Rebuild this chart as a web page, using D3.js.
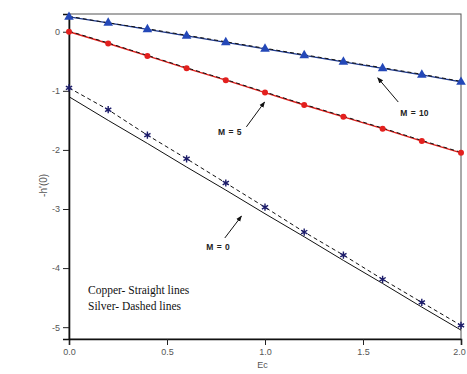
<!DOCTYPE html>
<html>
<head>
<meta charset="utf-8">
<script src="https://cdn.jsdelivr.net/npm/d3@7"></script>
<style>
  html, body { margin: 0; padding: 0; background: #fff; }
  svg { display: block; }
</style>
</head>
<body>
<svg id="chart" width="467" height="374"></svg>
<script>
// Eckert number values along the x axis
const ec = [0.0, 0.2, 0.4, 0.6, 0.8, 1.0, 1.2, 1.4, 1.6, 1.8, 2.0];

// -h'(0) for copper (solid lines)
const copperM10 = [0.25, 0.15, 0.04, -0.07, -0.18, -0.29, -0.40, -0.51, -0.62, -0.73, -0.85];
const copperM5  = [0.00, -0.20, -0.41, -0.62, -0.82, -1.03, -1.24, -1.44, -1.64, -1.85, -2.05];
const copperM0  = [-1.10, -1.50, -1.89, -2.29, -2.68, -3.08, -3.47, -3.87, -4.26, -4.66, -5.05];

// -h'(0) for silver (dashed lines)
const silverM10 = [0.26, 0.15, 0.05, -0.06, -0.17, -0.28, -0.39, -0.50, -0.61, -0.72, -0.84];
const silverM5  = [0.01, -0.19, -0.40, -0.61, -0.81, -1.02, -1.23, -1.43, -1.63, -1.84, -2.04];
const silverM0  = [-0.95, -1.32, -1.75, -2.15, -2.56, -2.97, -3.39, -3.78, -4.19, -4.58, -4.97];

// Axis ticks
const xTicks = [0.0, 0.5, 1.0, 1.5, 2.0];
const yTicks = [0, -1, -2, -3, -4, -5];

const svg = d3.select("#chart");
const W = 467, H = 374;
const margin = { top: 14, right: 6, bottom: 35, left: 69 };

const x = d3.scaleLinear().domain([0, 2]).range([margin.left, W - margin.right]);
const y = d3.scaleLinear().domain([-5.2, 0.3]).range([H - margin.bottom, margin.top]);

// Frame (top and right edges)
svg.append("rect")
  .attr("x", x(0)).attr("y", y(0.3))
  .attr("width", x(2) - x(0)).attr("height", y(-5.2) - y(0.3))
  .attr("fill", "none").attr("stroke", "#555").attr("stroke-width", 1);

// Axes
const xAxis = svg.append("g")
  .attr("transform", `translate(0,${y(-5.2)})`)
  .call(d3.axisBottom(x).tickValues(xTicks).tickFormat(d3.format(".1f")).tickSize(6).tickPadding(4));
const yAxis = svg.append("g")
  .attr("transform", `translate(${x(0)},0)`)
  .call(d3.axisLeft(y).tickValues(yTicks).tickFormat(d => d === 0 ? "0" : "-" + Math.abs(d)).tickSize(6).tickPadding(3));

[xAxis, yAxis].forEach(g => {
  g.select(".domain").attr("stroke", "#111").attr("stroke-width", 1.6);
  g.selectAll(".tick line").attr("stroke", "#222").attr("stroke-width", 1);
  g.selectAll(".tick text")
    .attr("fill", "#555")
    .style("font-family", "'Liberation Sans', Arial, sans-serif")
    .style("font-size", "9px");
});
// keep the last x label inside the page
xAxis.selectAll(".tick text").filter(d => d === 2).attr("dx", "-2");

// Axis titles
svg.append("text")
  .attr("transform", `translate(47,${y(-2.6)}) rotate(-90)`)
  .attr("text-anchor", "middle")
  .attr("fill", "#555")
  .style("font-family", "'Liberation Sans', Arial, sans-serif")
  .style("font-size", "10px")
  .text("-h'(0)");
svg.append("text")
  .attr("x", x(0.96)).attr("y", 368)
  .attr("text-anchor", "start")
  .attr("fill", "#555")
  .style("font-family", "'Liberation Sans', Arial, sans-serif")
  .style("font-size", "9px")
  .text("Ec");

const line = d3.line().x((d, i) => x(ec[i])).y(d => y(d));

// Copper curves (solid)
const solid = [
  { values: copperM10, color: "#1f3a8f", width: 1.3 },
  { values: copperM5,  color: "#e0201c", width: 1.4 },
  { values: copperM0,  color: "#111111", width: 1.0 }
];
solid.forEach(s => {
  svg.append("path").datum(s.values)
    .attr("d", line).attr("fill", "none")
    .attr("stroke", s.color).attr("stroke-width", s.width);
});

// Silver curves (dashed)
[silverM10, silverM5, silverM0].forEach(v => {
  svg.append("path").datum(v)
    .attr("d", line).attr("fill", "none")
    .attr("stroke", "#111").attr("stroke-width", 1)
    .attr("stroke-dasharray", "4,3");
});

// Markers
svg.append("g").selectAll("path").data(copperM10).join("path")
  .attr("transform", (d, i) => `translate(${x(ec[i])},${y(d)})`)
  .attr("d", d3.symbol(d3.symbolTriangle, 40))
  .attr("fill", "#2448b8");
svg.append("g").selectAll("circle").data(copperM5).join("circle")
  .attr("cx", (d, i) => x(ec[i])).attr("cy", d => y(d))
  .attr("r", 3).attr("fill", "#e3201e");
svg.append("g").selectAll("path").data(silverM0).join("path")
  .attr("transform", (d, i) => `translate(${x(ec[i])},${y(d)})`)
  .attr("d", d3.symbol(d3.symbolAsterisk, 36))
  .attr("fill", "none").attr("stroke", "#1c1c6a").attr("stroke-width", 1.4);

// Arrowhead
svg.append("defs").append("marker")
  .attr("id", "arrow").attr("viewBox", "0 0 10 10")
  .attr("refX", 9).attr("refY", 5)
  .attr("markerWidth", 6).attr("markerHeight", 6)
  .attr("orient", "auto-start-reverse")
  .append("path").attr("d", "M0,1 L10,5 L0,9 Z").attr("fill", "#111");

// Curve labels with arrows, placed in data coordinates
const notes = [
  { label: "M = 10", tx: 1.69, ty: -1.42, from: [1.68, -1.19], to: [1.575, -0.78] },
  { label: "M = 5",  tx: 0.76, ty: -1.75, from: [0.905, -1.61], to: [0.998, -1.19] },
  { label: "M = 0",  tx: 0.70, ty: -3.70, from: [0.795, -3.49], to: [0.88, -3.12] }
];
notes.forEach(n => {
  svg.append("line")
    .attr("x1", x(n.from[0])).attr("y1", y(n.from[1]))
    .attr("x2", x(n.to[0])).attr("y2", y(n.to[1]))
    .attr("stroke", "#111").attr("stroke-width", 1)
    .attr("marker-end", "url(#arrow)");
  svg.append("text")
    .attr("x", x(n.tx)).attr("y", y(n.ty))
    .attr("fill", "#222")
    .style("font-family", "'Liberation Sans', Arial, sans-serif")
    .style("font-size", "8.5px").style("font-weight", "bold")
    .style("word-spacing", "1px")
    .text(n.label);
});

// Material key
const key = ["Copper- Straight lines", "Silver- Dashed lines"];
svg.append("g").selectAll("text").data(key).join("text")
  .attr("x", 88).attr("y", (d, i) => 294 + i * 15.5)
  .attr("fill", "#111")
  .style("font-family", "'Liberation Serif', 'Times New Roman', serif")
  .style("font-size", "11.5px")
  .text(d => d);
</script>
</body>
</html>
